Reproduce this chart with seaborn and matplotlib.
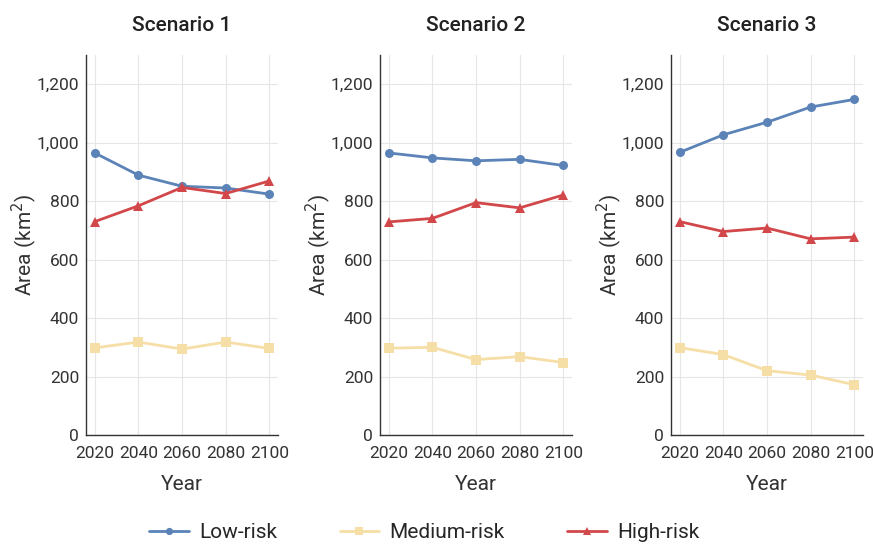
import numpy as np
import pandas as pd
import matplotlib
matplotlib.use("Agg")
import matplotlib.pyplot as plt
import seaborn as sns
from matplotlib.ticker import FuncFormatter

years = [2020, 2040, 2060, 2080, 2100]
scenarios = ["Scenario 1", "Scenario 2", "Scenario 3"]
risk_levels = ["Low-risk", "Medium-risk", "High-risk"]

low_risk = {
    "Scenario 1": [965, 889, 851, 845, 824],
    "Scenario 2": [965, 948, 938, 943, 922],
    "Scenario 3": [967, 1027, 1070, 1122, 1148],
}
medium_risk = {
    "Scenario 1": [298, 318, 294, 318, 296],
    "Scenario 2": [297, 300, 258, 268, 248],
    "Scenario 3": [299, 275, 220, 205, 172],
}
high_risk = {
    "Scenario 1": [730, 784, 847, 826, 869],
    "Scenario 2": [729, 741, 795, 777, 821],
    "Scenario 3": [730, 696, 708, 671, 677],
}

rows = []
for sc in scenarios:
    for name, series in zip(risk_levels, [low_risk, medium_risk, high_risk]):
        for yr, v in zip(years, series[sc]):
            rows.append({"Scenario": sc, "Risk": name, "Year": yr, "Area": v})
df = pd.DataFrame(rows)

sns.set_theme(style="white")
plt.rcParams["font.family"] = ["Roboto", "DejaVu Sans"]

palette = {"Low-risk": "#5b83b8", "Medium-risk": "#f6dfa6", "High-risk": "#d2484a"}
markers = {"Low-risk": "o", "Medium-risk": "s", "High-risk": "^"}

fig = plt.figure(figsize=(8.73, 5.44), dpi=100)
lefts = [86, 380, 671]
W, H = 873, 544
axes = []
for i, sc in enumerate(scenarios):
    ax = fig.add_axes([lefts[i] / W, (H - 435) / H, 192 / W, 380 / H])
    axes.append(ax)
    sub = df[df["Scenario"] == sc]
    sns.lineplot(
        data=sub, x="Year", y="Area", hue="Risk", style="Risk",
        hue_order=risk_levels, style_order=risk_levels,
        palette=palette, markers=markers, dashes=False,
        linewidth=2, markersize=6.5, markeredgewidth=0,
        ax=ax, legend=(i == 0),
    )
    ax.set_xlim(2016, 2104)
    ax.set_ylim(0, 1300)
    ax.set_xticks(years)
    ax.set_yticks([0, 200, 400, 600, 800, 1000, 1200])
    ax.yaxis.set_major_formatter(FuncFormatter(lambda v, p: f"{int(v):,}"))
    ax.grid(True, color="#e6e6e6", linewidth=0.8)
    ax.set_axisbelow(True)
    for s in ["top", "right"]:
        ax.spines[s].set_visible(False)
    for s in ["left", "bottom"]:
        ax.spines[s].set_color("#333333")
        ax.spines[s].set_linewidth(1.0)
    ax.tick_params(axis="both", length=0, labelsize=12.5, colors="#333333")
    ax.tick_params(axis="x", pad=8)
    ax.tick_params(axis="y", pad=5)
    ax.set_title(sc, fontsize=15, fontweight="medium", color="#222222", pad=17)
    ax.set_xlabel("Year", fontsize=15, color="#333333", labelpad=10)
    ax.set_ylabel("Area (km$^2$)", fontsize=15, color="#333333", labelpad=-2)

handles, labels = axes[0].get_legend_handles_labels()
axes[0].get_legend().remove()
fig.legend(handles, labels, loc="center", bbox_to_anchor=(0.486, 1 - 533 / H),
           ncol=3, frameon=False, fontsize=15, handlelength=1.9,
           columnspacing=3.0, handletextpad=0.5, markerscale=0.8)

fig.savefig("out.png", dpi=100)
